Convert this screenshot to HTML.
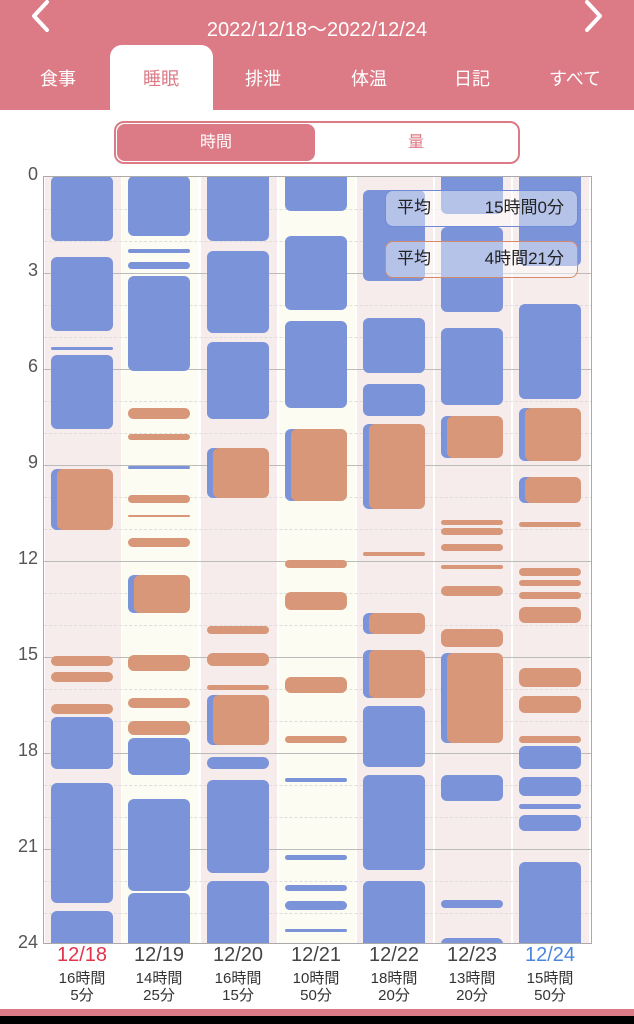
<!DOCTYPE html>
<html><head><meta charset="utf-8"><style>
*{margin:0;padding:0;box-sizing:border-box}
body{width:634px;height:1024px;position:relative;background:#fff;overflow:hidden;font-family:"Liberation Sans","Noto Sans CJK JP",sans-serif}
.a{position:absolute}
.hdr{left:0;top:0;width:634px;height:110px;background:#dc7a86}
.tab{top:65px;width:90px;text-align:center;color:#fff;font-size:18px}
.b{position:absolute;background:#7b93d8;border-radius:6px}
.o{position:absolute;background:#d9977a;border-radius:6px}
.yl{position:absolute;left:0;width:38px;text-align:right;font-size:18px;color:#555}
.dl{position:absolute;width:78px;text-align:center;font-size:20px;color:#444}
.sl{position:absolute;width:78px;text-align:center;font-size:15px;color:#333;line-height:17px}
</style></head><body>
<div class="a hdr"></div>
<svg class="a" style="left:0;top:0" width="634" height="40"><polyline points="47,2 34,16 47,30" fill="none" stroke="#fff" stroke-width="4" stroke-linecap="round" stroke-linejoin="round"/><polyline points="587,2 600,16 587,30" fill="none" stroke="#fff" stroke-width="4" stroke-linecap="round" stroke-linejoin="round"/></svg>
<div class="a" style="left:0;width:634px;top:13px;text-align:center;color:#fff;font-size:20px">2022/12/18～2022/12/24</div>
<div class="a" style="left:110px;top:45px;width:103px;height:70px;background:#fff;border-radius:12px 12px 0 0"></div>
<div class="a tab" style="left:13px">食事</div>
<div class="a tab" style="left:116px;color:#dc7a86">睡眠</div>
<div class="a tab" style="left:218px">排泄</div>
<div class="a tab" style="left:324px">体温</div>
<div class="a tab" style="left:427px">日記</div>
<div class="a tab" style="left:530px">すべて</div>
<div class="a" style="left:114px;top:121px;width:406px;height:43px;border:2px solid #dc7a86;border-radius:10px"></div>
<div class="a" style="left:117px;top:124px;width:198px;height:37px;background:#dc7a86;border-radius:8px;color:#fff;text-align:center;line-height:37px;font-size:16px">時間</div>
<div class="a" style="left:315px;top:124px;width:202px;height:37px;color:#dc7a86;text-align:center;line-height:37px;font-size:16px">量</div>
<div id="chart" class="a" style="left:43px;top:176px;width:549px;height:768px;background:#fff;border:1px solid #aaa;overflow:hidden"></div>
<div id="lab"></div>
<div class="a" style="left:385px;top:190px;width:193px;height:37px;border:1.5px solid #6f8ad6;border-radius:8px;background:rgba(255,255,255,0.45);font-size:17px;line-height:34px;color:#222"><span style="position:absolute;left:11px">平均</span><span style="position:absolute;right:13px">15時間0分</span></div>
<div class="a" style="left:385px;top:241px;width:193px;height:37px;border:1.5px solid #d68a6c;border-radius:8px;background:rgba(255,255,255,0.45);font-size:17px;line-height:34px;color:#222"><span style="position:absolute;left:11px">平均</span><span style="position:absolute;right:13px">4時間21分</span></div>
<div class="a" style="left:0;top:1009px;width:634px;height:7px;background:#dc7a86"></div>
<div class="a" style="left:0;top:1016px;width:634px;height:8px;background:#000"></div>
<script>
var ch=document.getElementById('chart'),h='';
var bg=['#f7ecec','#fdfcf3','#f7ecec','#fdfcf3','#f7ecec','#f7ecec','#f7ecec'];
var xs=[51,128,207,285,363,441,519];
for(var i=0;i<7;i++){h+='<div class="a" style="left:'+(xs[i]-43-7)+'px;top:0;width:76px;height:768px;background:'+bg[i]+'"></div>';}
for(var k=1;k<24;k++){var y=k*32;h+= (k%3==0)?'<div class="a" style="left:0;top:'+y+'px;width:549px;height:1px;background:#bbb"></div>':'<div class="a" style="left:0;top:'+y+'px;width:549px;border-top:1px dashed #ddd"></div>';}
var D=[
[['b',176,241],['b',257,331],['b',347,350],['b',355,429],['o',469,530],['o',656,666],['o',672,682],['o',704,714],['b',717,769],['b',783,903],['b',911,950]],
[['b',176,236],['b',249,253],['b',262,269],['b',276,371],['o',408,419],['o',434,440],['b',466,469],['o',495,503],['o',515,517],['o',538,547],['o',575,613],['o',655,671],['o',698,708],['o',721,735],['b',738,775],['b',799,891],['b',893,950]],
[['b',170,241],['b',251,333],['b',342,419],['o',448,498],['o',626,634],['o',653,666],['o',685,690],['o',695,745],['b',757,769],['b',780,873],['b',881,950]],
[['b',170,211],['b',236,310],['b',321,408],['o',429,501],['o',560,568],['o',592,610],['o',677,693],['o',736,743],['b',778,782],['b',855,860],['b',885,891],['b',901,910],['b',929,932]],
[['b',190,281],['b',318,373],['b',384,416],['o',424,509],['o',552,556],['o',613,634],['o',650,698],['b',706,767],['b',775,870],['b',881,950]],
[['b',170,214],['b',227,312],['b',328,405],['o',416,458],['o',520,525],['o',528,535],['o',544,551],['o',565,569],['o',586,596],['o',629,647],['o',653,743],['b',775,801],['b',900,908],['b',938,950]],
[['b',170,266],['b',304,399],['o',408,461],['o',477,503],['o',522,527],['o',568,576],['o',580,586],['o',592,599],['o',607,623],['o',668,687],['o',696,713],['o',736,743],['b',746,769],['b',777,796],['b',804,809],['b',815,831],['b',862,950]]];
for(var i=0;i<7;i++){var x=xs[i]-44;D[i].forEach(function(s){var t=s[1]-177,hh=s[2]-s[1],r=Math.min(6,hh/2);
if(s[0]=='b')h+='<div class="b" style="left:'+x+'px;top:'+t+'px;width:62px;height:'+hh+'px;border-radius:'+r+'px"></div>';
else{ if(hh>20)h+='<div class="b" style="left:'+x+'px;top:'+t+'px;width:55px;height:'+hh+'px;border-radius:'+r+'px"></div>';
h+='<div class="o" style="left:'+(hh>20?x+6:x)+'px;top:'+t+'px;width:'+(hh>20?56:62)+'px;height:'+hh+'px;border-radius:'+r+'px"></div>';}});}
ch.innerHTML=h;
var L='';for(var k=0;k<=24;k+=3){L+='<div class="yl" style="top:'+(176+k*32-12)+'px">'+k+'</div>';}
var dd=['12/18','12/19','12/20','12/21','12/22','12/23','12/24'],s1=['16時間','14時間','16時間','10時間','18時間','13時間','15時間'],s2=['5分','25分','15分','50分','20分','20分','50分'];
for(var i=0;i<7;i++){var c=i==0?'#e0344a':(i==6?'#4a86e0':'#444');
L+='<div class="dl" style="left:'+(xs[i]-8)+'px;top:944px;color:'+c+'">'+dd[i]+'</div>';
L+='<div class="sl" style="left:'+(xs[i]-8)+'px;top:970px">'+s1[i]+'<br>'+s2[i]+'</div>';}
document.getElementById('lab').innerHTML=L;
</script>
</body></html>
